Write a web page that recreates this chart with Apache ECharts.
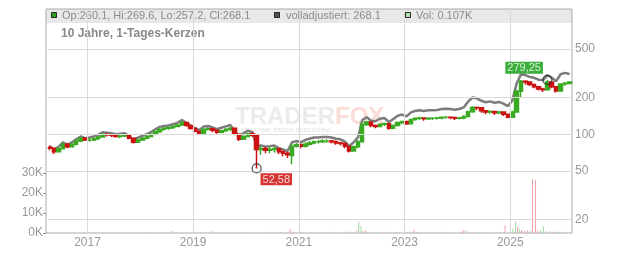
<!DOCTYPE html>
<html><head><meta charset="utf-8">
<script src="https://cdn.jsdelivr.net/npm/echarts@6/dist/echarts.min.js"></script>
<style>html,body{margin:0;padding:0;background:#fff}#c{width:632px;height:253px}</style>
</head><body><div id="c"></div>
<script>
// monthly candles (month label, candle placed mid-month)
const months = [
 '2016-04','2016-05','2016-06','2016-07','2016-08','2016-09','2016-10','2016-11','2016-12',
 '2017-01','2017-02','2017-03','2017-04','2017-05','2017-06','2017-07','2017-08','2017-09','2017-10','2017-11','2017-12',
 '2018-01','2018-02','2018-03','2018-04','2018-05','2018-06','2018-07','2018-08','2018-09','2018-10','2018-11','2018-12',
 '2019-01','2019-02','2019-03','2019-04','2019-05','2019-06','2019-07','2019-08','2019-09','2019-10','2019-11','2019-12',
 '2020-01','2020-02','2020-03','2020-04','2020-05','2020-06','2020-07','2020-08','2020-09','2020-10','2020-11','2020-12',
 '2021-01','2021-02','2021-03','2021-04','2021-05','2021-06','2021-07','2021-08','2021-09','2021-10','2021-11','2021-12',
 '2022-01','2022-02','2022-03','2022-04','2022-05','2022-06','2022-07','2022-08','2022-09','2022-10','2022-11','2022-12',
 '2023-01','2023-02','2023-03','2023-04','2023-05','2023-06','2023-07','2023-08','2023-09','2023-10','2023-11','2023-12',
 '2024-01','2024-02','2024-03','2024-04','2024-05','2024-06','2024-07','2024-08','2024-09','2024-10','2024-11','2024-12',
 '2025-01','2025-02','2025-03','2025-04','2025-05','2025-06','2025-07','2025-08','2025-09','2025-10','2025-11','2025-12',
 '2026-01','2026-02'
];
const opens = [
 78,77,72,76,83,79,83,88,93,
 90,90,92,95,100,99,98,96,97,98,93,86,
 90,93,96,100,105,110,112,113,116,119,125,118,
 112,106,102,110,111,108,104,107,110,112,100,91,
 96,101,98,75,76,74,75,76,72,70,67,80,
 82,80,83,85,87,87,88,88,87,85,84,80,
 73,79,87,120,126,118,116,121,122,112,118,125,
 127,122,132,135,136,134,135,135,136,138,138,137,
 135,136,140,153,166,165,156,152,154,150,152,146,
 138,152,225,272,268,255,245,235,232,268,245,226,
 258,262
];
const closes = [
 77,72,76,83,79,83,88,93,90,
 90,92,95,100,99,98,96,97,98,93,86,90,
 93,96,100,105,110,112,113,116,119,125,118,112,
 106,102,110,111,108,104,107,110,112,100,91,96,
 101,98,75,76,74,75,76,72,70,68,80,82,
 80,83,85,87,87,88,88,87,85,84,80,73,
 79,87,120,126,118,116,121,122,112,118,125,127,
 122,132,135,136,134,135,135,136,138,138,137,135,
 136,140,153,166,165,156,152,154,150,152,146,138,
 152,225,272,268,255,245,235,232,268,245,226,258,
 262,268.1
];
const lows = [
 74,69,71,75,77,78,81,86,88,
 87,88,90,94,96,95,94,93,95,91,84,85,
 88,91,94,98,103,107,109,111,114,117,116,109,
 104,99,101,107,104,101,102,105,106,98,88,90,
 95,95,52.58,68,70,70,71,69,66,64,57,78,
 77,78,81,83,84,85,85,84,82,81,77,71,
 72,77,86,117,114,112,114,117,109,110,116,121,
 119,120,129,131,129,131,131,132,133,134,133,131,
 132,133,138,150,158,150,146,147,144,146,141,135,
 136,150,201,255,248,238,228,222,230,238,220,224,
 250,255
];
const highs = [
 81,78,79,85,85,85,90,95,95,
 93,94,97,102,102,101,100,99,100,99,94,92,
 95,98,102,107,112,115,116,118,121,128,126,119,
 113,107,112,114,112,109,109,112,114,113,101,98,
 103,104,99,80,79,80,79,78,74,72,84,85,
 84,86,88,89,90,91,91,90,89,87,85,81,
 81,90,124,129,127,120,123,125,123,120,127,129,
 128,134,137,139,138,138,138,139,140,141,140,139,
 139,143,156,170,169,166,158,157,156,155,153,148,
 156,232,278,277,272,260,250,240,279.25,270,248,262,
 268,270
];
const adjusted = [
 80,75,79,86,82,86,91,96,93,
 94,96,99,104,103,102,100,101,102,97,90,94,
 97,100,104,110,115,117,118,121,124,131,124,118,
 112,108,116,117,114,110,113,116,119,106,97,102,
 107,104,80,81,79,80,81,77,75,73,86,88,
 86,90,92,94,94,95,95,94,92,91,87,80,
 86,95,131,138,129,128,134,136,126,133,142,145,
 140,151,155,157,155,157,157,158,161,162,161,159,
 161,166,185,200,197,188,183,186,181,184,178,170,
 188,262,308,305,295,290,280,278,304,290,272,310,
 318,312
];
// volume (in thousands)
const volDates = ['2018-02-17','2018-06-28','2018-08-08','2019-01-15','2019-05-15','2019-11-20','2020-01-15','2020-06-15','2020-07-20','2020-08-25',
 '2020-11-01','2020-11-20','2021-01-10','2021-07-01','2021-08-18','2021-11-28','2021-12-20','2022-02-06','2022-02-20','2022-03-07',
 '2022-03-20','2022-04-08','2022-05-07','2022-06-24','2022-08-03','2022-10-04','2022-11-10','2023-01-25','2023-02-17','2023-03-10',
 '2023-04-05','2023-05-22','2023-07-17','2023-09-24','2024-02-02','2024-02-17','2024-03-03','2024-03-17','2024-04-20','2024-06-08',
 '2024-07-20','2024-10-24','2024-11-29','2025-01-01','2025-01-22','2025-02-10','2025-02-24','2025-03-10','2025-03-24','2025-04-12',
 '2025-05-04','2025-05-26','2025-06-07','2025-06-28','2025-07-12','2025-07-31','2025-08-21','2025-09-11','2025-10-03','2025-10-23',
 '2025-11-21','2025-12-10','2026-01-07','2026-01-29'];
const volValues = [0.5,0.5,1.0,0.5,1.0,0.5,0.6,0.6,0.8,0.7,
 2.0,0.8,0.5,0.5,0.6,0.8,0.6,1.2,5.6,3.5,
 1.0,1.2,0.8,0.6,0.5,0.6,0.5,0.6,0.6,1.5,
 0.7,0.6,0.6,0.6,0.8,1.5,1.2,0.6,0.5,0.6,
 0.5,0.6,3.8,0.6,2.0,5.8,3.0,2.0,1.5,1.0,
 1.2,1.0,27,26.5,1.0,1.5,3.5,1.0,0.8,0.6,
 0.8,0.5,0.6,0.6];
const volUp = [0,0,0,1,1,0,1,1,1,1,
 0,0,0,1,0,0,1,0,1,1,
 0,0,0,1,0,0,0,0,1,0,
 0,0,0,1,0,0,1,1,0,1,
 0,0,0,1,1,1,0,1,0,0,
 0,1,0,0,0,1,1,0,1,0,
 0,1,0,1];
const priceTicks = [20, 50, 100, 200, 500];
const yearTicks = ['2017', '2019', '2021', '2023', '2025'];
const extremes = [['2025-09-15', 279.25, 'max'], ['2020-03-15', 52.58, 'min']];

const FONT = '"Liberation Sans", Arial, sans-serif';
const GREEN = '#3aaa22', RED = '#cc1111';

const candleData = months.map((m, i) => [m + '-15', opens[i], closes[i], lows[i], highs[i]]);
const adjData = months.map((m, i) => [m + '-15', adjusted[i]]);
const volData = volDates.map((d, i) => ({value: [d, volValues[i] * 1000], itemStyle: {color: volUp[i] ? '#a2daa2' : '#f2a0aa'}}));

const markData = yearTicks.map(y => ({xAxis: y + '-01-01', name: y, label: {position: 'start', formatter: '{b}', distance: 4}}))
 .concat(priceTicks.map(p => ({yAxis: p, name: String(p), label: {position: 'end', formatter: '{b}', distance: 3}})));

const extremeData = extremes.map(e => ({
  value: [e[0], e[1]],
  label: {
    show: true,
    formatter: p => String(p.value[1]).replace('.', ','),
    position: e[2] === 'max' ? [-37, -13] : [9, 10],
    color: '#fff', fontSize: 11, fontFamily: FONT, lineHeight: 11,
    backgroundColor: e[2] === 'max' ? '#0a9a0a' : '#cc0000',
    padding: [1, 2, 0, 2]
  }
}));

const chart = echarts.init(document.getElementById('c'), null, {renderer: 'canvas'});
chart.setOption({
  animation: false,
  backgroundColor: '#fff',
  textStyle: {fontFamily: FONT},
  grid: [
    {left: 46, right: 60, top: 9, bottom: 20, show: true, borderColor: '#aaa', borderWidth: 1, backgroundColor: 'transparent'},
    {left: 46, right: 60, bottom: 20, height: 60}
  ],
  xAxis: [
    {type: 'time', gridIndex: 0, min: '2016-03-20', max: '2026-03-04', axisLine: {show: false}, axisTick: {show: false}, axisLabel: {show: false}, splitLine: {show: false}},
    {type: 'time', gridIndex: 1, min: '2016-03-20', max: '2026-03-04', axisLine: {show: false}, axisTick: {show: false}, axisLabel: {show: false}, splitLine: {show: false}}
  ],
  yAxis: [
    {type: 'log', gridIndex: 0, position: 'right', min: 15.57, max: 1060, axisLine: {show: false}, axisTick: {show: false}, axisLabel: {show: false}, splitLine: {show: false}},
    {type: 'value', gridIndex: 1, position: 'left', min: 0, max: 30000, interval: 10000,
     axisLine: {show: false}, axisTick: {show: true, length: 3, lineStyle: {color: '#999'}},
     axisLabel: {color: '#999', fontSize: 12, fontFamily: FONT, margin: 3, formatter: v => (v / 1000) + 'K'},
     splitLine: {show: false}}
  ],
  graphic: [
    {type: 'rect', z: -10, shape: {x: 46, y: 9, width: 526, height: 14}, style: {fill: '#e8e8e8'}},
    {type: 'text', z: -5, x: 235, y: 105, style: {text: 'TRADER', fontSize: 24, fontWeight: 'bold', fontFamily: FONT, fill: '#ebebeb', verticalAlign: 'top'}},
    {type: 'text', z: -5, x: 335, y: 105, style: {text: 'FOX', fontSize: 24, fontWeight: 'bold', fontFamily: FONT, fill: '#fbdcd6', verticalAlign: 'top'}},
    {type: 'text', z: -5, x: 241, y: 127, style: {text: 'REALTIME STOCK SCREENING', fontSize: 6, fontWeight: 'bold', fontFamily: FONT, fill: '#e8e8e8', verticalAlign: 'top'}},
    {type: 'rect', shape: {x: 51.5, y: 12.5, width: 5, height: 5}, style: {fill: '#2e9e1e', stroke: '#222', lineWidth: 1}},
    {type: 'text', x: 62, y: 16, style: {text: 'Op:260.1, Hi:269.6, Lo:257.2, Cl:268.1', fontSize: 11, fontFamily: FONT, fill: '#8c8c8c', verticalAlign: 'middle'}},
    {type: 'rect', shape: {x: 274.5, y: 12.5, width: 5, height: 5}, style: {fill: '#555', stroke: '#222', lineWidth: 1}},
    {type: 'text', x: 286, y: 16, style: {text: 'volladjustiert: 268.1', fontSize: 11, fontFamily: FONT, fill: '#8c8c8c', verticalAlign: 'middle'}},
    {type: 'rect', shape: {x: 405.5, y: 12.5, width: 5, height: 5}, style: {fill: '#b2e2b2', stroke: '#222', lineWidth: 1}},
    {type: 'text', x: 416, y: 16, style: {text: 'Vol: 0.107K', fontSize: 11, fontFamily: FONT, fill: '#8c8c8c', verticalAlign: 'middle'}},
    {type: 'text', x: 61, y: 34, style: {text: '10 Jahre, 1-Tages-Kerzen', fontSize: 12, fontWeight: 'bold', fontFamily: FONT, fill: '#888', verticalAlign: 'middle'}}
  ],
  series: [
    {type: 'line', xAxisIndex: 0, yAxisIndex: 0, data: [], z: 1,
     markLine: {silent: true, animation: false, symbol: ['none', 'none'],
       lineStyle: {color: '#dadada', width: 1, type: 'solid'},
       label: {color: '#999', fontSize: 12, fontFamily: FONT},
       emphasis: {disabled: true},
       data: markData}},
    {type: 'line', xAxisIndex: 0, yAxisIndex: 0, data: adjData, showSymbol: false, z: 2,
     lineStyle: {color: '#7c7c7c', width: 2.5}},
    {type: 'candlestick', xAxisIndex: 0, yAxisIndex: 0, data: candleData, encode: {x: 0, y: [1, 2, 3, 4]}, z: 3,
     barWidth: 4,
     itemStyle: {color: GREEN, color0: RED, borderColor: GREEN, borderColor0: RED, borderWidth: 1.5}},
    {type: 'bar', xAxisIndex: 1, yAxisIndex: 1, data: volData, barWidth: 1, z: 2},
    {type: 'scatter', xAxisIndex: 0, yAxisIndex: 0, data: extremeData, symbol: 'circle', symbolSize: 9, z: 5,
     itemStyle: {color: 'rgba(0,0,0,0)', borderColor: '#222', borderWidth: 1.2}}
  ]
});
</script></body></html>
